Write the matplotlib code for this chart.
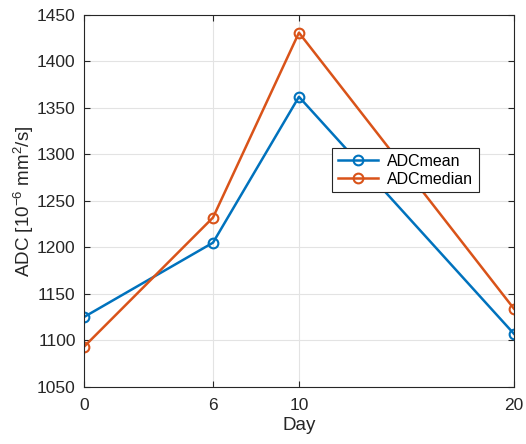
import matplotlib
matplotlib.use("Agg")
import matplotlib.pyplot as plt

days = [0, 6, 10, 20]
adc_mean = [1125, 1205, 1362, 1107]
adc_median = [1093, 1232, 1431, 1134]
y_ticks = [1050, 1100, 1150, 1200, 1250, 1300, 1350, 1400, 1450]

plt.rcParams["font.family"] = ["Liberation Sans", "DejaVu Sans"]
plt.rcParams["mathtext.fontset"] = "custom"
plt.rcParams["mathtext.rm"] = "Liberation Sans"
plt.rcParams["mathtext.it"] = "Liberation Sans"

fig = plt.figure(figsize=(5.26, 4.44), dpi=100)
ax = fig.add_axes([0.1597, 0.129, 0.8173, 0.8372])

blue = "#0072BD"
orange = "#D95319"
ax.plot(days, adc_mean, "-o", color=blue, lw=1.8, ms=7, mfc="none", mew=1.5, label="ADCmean")
ax.plot(days, adc_median, "-o", color=orange, lw=1.8, ms=7, mfc="none", mew=1.5, label="ADCmedian")

ax.set_xlim(0, 20)
ax.set_ylim(1050, 1450)
ax.set_xticks(days)
ax.set_yticks(y_ticks)
ax.grid(True, color="#e3e3e3", lw=0.8)
ax.set_axisbelow(True)
ax.tick_params(direction="in", top=True, right=True, labelsize=12.5, colors="#262626", length=4)
ax.tick_params(axis="x", pad=8)
ax.tick_params(axis="y", pad=6)
for spine in ax.spines.values():
    spine.set_color("#262626")
    spine.set_linewidth(0.8)

ax.set_xlabel("Day", fontsize=13.5, color="#262626", labelpad=3)
ax.set_ylabel("ADC [10$^{-6}$ mm$^2$/s]", fontsize=13.5, color="#262626", labelpad=1)

leg = ax.legend(loc="upper left", bbox_to_anchor=(0.577, 0.642), borderaxespad=0,
                fancybox=False, edgecolor="#262626", framealpha=1, fontsize=11.5,
                handlelength=2.5, handletextpad=0.6, borderpad=0.35, labelspacing=0.2)
leg.get_frame().set_linewidth(0.8)

fig.savefig("out.png", dpi=100)
